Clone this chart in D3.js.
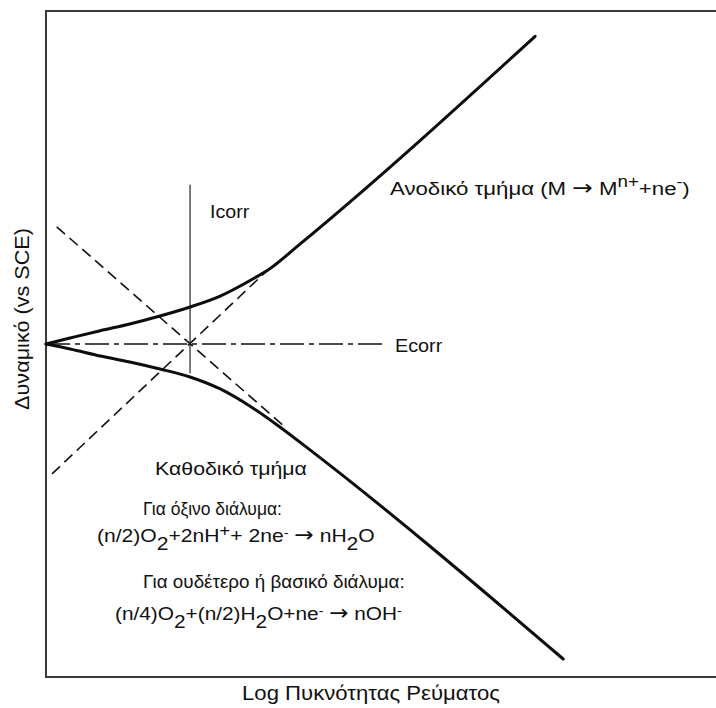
<!DOCTYPE html>
<html>
<head>
<meta charset="utf-8">
<script src="https://cdn.jsdelivr.net/npm/d3@7"></script>
<style>
  html, body { margin: 0; padding: 0; background: #fff; }
  svg { display: block; }
  text { font-family: "Liberation Sans", Arial, Helvetica, sans-serif; fill: #111; }
  .arrow { font-family: "DejaVu Sans", sans-serif; }
</style>
</head>
<body>
<svg id="chart" width="716" height="708"></svg>
<script>
// Polarisation curve (Evans diagram): log current density vs potential.
const anodicLogI = [0, 0.36, 0.81, 1.25, 1.70, 2.15, 2.60, 3.04, 3.34, 3.79, 7.30];
const anodicE    = [0, 0.09, 0.20, 0.30, 0.42, 0.556, 0.72, 0.95, 1.13, 1.50, 4.62];

const cathodicLogI = [0, 0.36, 0.81, 1.25, 1.70, 2.15, 2.60, 3.04, 3.49, 3.94, 7.72];
const cathodicE    = [0, -0.075, -0.18, -0.27, -0.375, -0.495, -0.675, -0.93, -1.245, -1.59, -4.73];

// Tafel extrapolations
const anodicTafelLogI   = [0.09, 3.34];
const anodicTafelE      = [-1.95, 1.14];
const cathodicTafelLogI = [0.16, 3.57];
const cathodicTafelE    = [1.76, -1.25];

// Corrosion point
const Ecorr = 0;
const Icorr = 2.15;
const ecorrLineLogI = [0, 5.03];
const icorrLineE = [2.39, -0.44];

const xDomain = [0, 10];
const yDomain = [-5, 5];

const svg = d3.select("#chart");
const x = d3.scaleLinear().domain(xDomain).range([46, 716]);
const y = d3.scaleLinear().domain(yDomain).range([677, 11]);

// Frame (open on the right)
const frame = svg.append("g").attr("stroke", "#3a3a3a").attr("stroke-width", 2).attr("fill", "none");
frame.append("path").attr("d", d3.line()([[716, y(yDomain[1])], [x(0), y(yDomain[1])], [x(0), y(yDomain[0])], [716, y(yDomain[0])]]));

const zip = (a, b) => a.map((v, i) => [v, b[i]]);
const line = d3.line().x(d => x(d[0])).y(d => y(d[1]));
const curve = d3.line().x(d => x(d[0])).y(d => y(d[1])).curve(d3.curveMonotoneX);

// Tafel lines (dashed)
[[anodicTafelLogI, anodicTafelE], [cathodicTafelLogI, cathodicTafelE]].forEach(([lx, ly]) => {
  svg.append("path")
    .attr("d", line(zip(lx, ly)))
    .attr("fill", "none").attr("stroke", "#111")
    .attr("stroke-width", 1.6).attr("stroke-dasharray", "11,6");
});

// Ecorr (dash-dot) and Icorr (thin solid)
svg.append("path")
  .attr("d", line(ecorrLineLogI.map(v => [v, Ecorr])))
  .attr("fill", "none").attr("stroke", "#111")
  .attr("stroke-width", 1.4).attr("stroke-dasharray", "24,5,5,5");
svg.append("path")
  .attr("d", line(icorrLineE.map(v => [Icorr, v])))
  .attr("fill", "none").attr("stroke", "#222").attr("stroke-width", 1.2);

// Measured anodic and cathodic branches
[[anodicLogI, anodicE], [cathodicLogI, cathodicE]].forEach(([lx, ly]) => {
  svg.append("path")
    .attr("d", curve(zip(lx, ly)))
    .attr("fill", "none").attr("stroke", "#0d0d0d")
    .attr("stroke-width", 3).attr("stroke-linecap", "round");
});

// Text helper: runs of [text, dy, fontSize, class]
function label(px, py, runs, width) {
  const t = svg.append("text").attr("x", px).attr("y", py).attr("font-size", 19);
  runs.forEach(r => {
    const s = t.append("tspan").text(r[0]);
    if (r[1]) s.attr("dy", r[1]);
    if (r[2]) s.attr("font-size", r[2]);
    if (r[3]) s.attr("class", r[3]);
  });
  if (width) {
    const w = t.node().getBBox().width;
    const k = width / w;
    t.attr("transform", `translate(${px},0) scale(${k},1) translate(${-px},0)`);
  }
  return t;
}

const ARROW = ["→", 0, 21, "arrow"];
label(390, 195, [["Ανοδικό τμήμα (M "], ARROW, [" M"], ["n+", -8, 16], ["+ne", 8], ["-", -8, 15], [")", 8]], 300);
label(210, 218, [["Icorr"]], 40);
label(395, 352, [["Ecorr"]], 48);
label(155, 475, [["Καθοδικό τμήμα"]], 152);
label(143, 515, [["Για όξινο διάλυμα:"]], 139);
label(97, 542, [["(n/2)O"], ["2", 8], ["+2nH", -8], ["+", -6, 17], ["+ 2ne", 6], ["-", -5, 13], [" ", 5], ARROW, [" nH"], ["2", 8], ["O", -8]], 278);
label(143, 588, [["Για ουδέτερο ή βασικό διάλυμα:"]], 262);
label(115, 620, [["(n/4)O"], ["2", 8], ["+(n/2)H", -8], ["2", 8], ["O+ne", -8], ["-", -5, 13], [" ", 5], ARROW, [" nOH"], ["-", -5, 13]], 287);

// Axis titles, stretched to their drawn extent
function axisTitle(tx, ty, rot, text, len) {
  const t = svg.append("text")
    .attr("transform", `translate(${tx},${ty}) rotate(${rot})`)
    .attr("text-anchor", "middle").attr("font-size", 21)
    .text(text);
  const k = len / t.node().getBBox().width;
  t.attr("transform", `translate(${tx},${ty}) rotate(${rot}) scale(${k},1)`);
}
axisTitle(371, 700, 0, "Log Πυκνότητας Ρεύματος", 258);
axisTitle(29, 319, -90, "Δυναμικό (vs SCE)", 182);
</script>
</body>
</html>
